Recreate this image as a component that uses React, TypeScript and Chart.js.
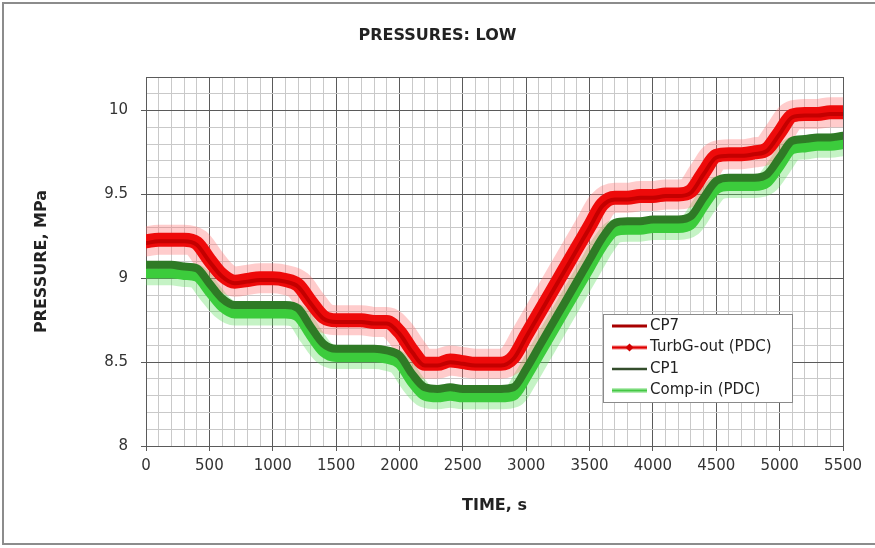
import React, { useEffect, useRef } from 'react';
import { Chart, registerables } from 'chart.js';

Chart.register(...registerables);

// ---- data ----
const TIME = [
  0, 100, 200, 300, 400, 500, 600, 700, 800, 900,
  1000, 1100, 1200, 1300, 1400, 1500, 1600, 1700, 1800, 1900,
  2000, 2100, 2200, 2300, 2400, 2500, 2600, 2700, 2800, 2900,
  3000, 3100, 3200, 3300, 3400, 3500, 3600, 3700, 3800, 3900,
  4000, 4100, 4200, 4300, 4400, 4500, 4600, 4700, 4800, 4900,
  5000, 5100, 5200, 5300, 5400, 5500,
];

const CP7 = [
  9.21, 9.22, 9.22, 9.22, 9.20, 9.10, 9.01, 8.97, 8.98, 8.99,
  8.99, 8.98, 8.95, 8.85, 8.76, 8.74, 8.74, 8.74, 8.73, 8.73,
  8.67, 8.56, 8.48, 8.48, 8.50, 8.49, 8.48, 8.48, 8.48, 8.52,
  8.65, 8.78, 8.91, 9.04, 9.17, 9.30, 9.43, 9.47, 9.47, 9.48,
  9.48, 9.49, 9.49, 9.51, 9.62, 9.72, 9.73, 9.73, 9.74, 9.76,
  9.86, 9.96, 9.97, 9.97, 9.98, 9.98,
];

const TURBG_OUT = [
  9.22, 9.23, 9.23, 9.23, 9.21, 9.11, 9.02, 8.98, 8.99, 9.00,
  9.00, 8.99, 8.96, 8.86, 8.77, 8.75, 8.75, 8.75, 8.74, 8.74,
  8.68, 8.57, 8.49, 8.49, 8.51, 8.50, 8.49, 8.49, 8.49, 8.53,
  8.66, 8.79, 8.92, 9.05, 9.18, 9.31, 9.44, 9.48, 9.48, 9.49,
  9.49, 9.50, 9.50, 9.52, 9.63, 9.73, 9.74, 9.74, 9.75, 9.77,
  9.87, 9.97, 9.98, 9.98, 9.99, 9.99,
];

const CP1 = [
  9.08, 9.08, 9.08, 9.07, 9.06, 8.97, 8.88, 8.84, 8.84, 8.84,
  8.84, 8.84, 8.82, 8.71, 8.61, 8.58, 8.58, 8.58, 8.58, 8.57,
  8.54, 8.43, 8.35, 8.34, 8.35, 8.34, 8.34, 8.34, 8.34, 8.35,
  8.46, 8.59, 8.72, 8.85, 8.98, 9.11, 9.24, 9.33, 9.34, 9.34,
  9.35, 9.35, 9.35, 9.37, 9.48, 9.58, 9.60, 9.60, 9.60, 9.62,
  9.72, 9.82, 9.83, 9.84, 9.84, 9.85,
];

const COMP_IN = [
  9.03, 9.03, 9.03, 9.02, 9.01, 8.92, 8.83, 8.79, 8.79, 8.79,
  8.79, 8.79, 8.77, 8.66, 8.56, 8.53, 8.53, 8.53, 8.53, 8.52,
  8.49, 8.38, 8.30, 8.29, 8.30, 8.29, 8.29, 8.29, 8.29, 8.30,
  8.41, 8.54, 8.67, 8.80, 8.93, 9.06, 9.19, 9.28, 9.29, 9.29,
  9.30, 9.30, 9.30, 9.32, 9.43, 9.53, 9.55, 9.55, 9.55, 9.57,
  9.67, 9.77, 9.78, 9.79, 9.79, 9.80,
];

const SERIES_NAMES = ['CP7', 'TurbG-out (PDC)', 'CP1', 'Comp-in (PDC)'];
const X_TICK_LABELS = ['0', '500', '1000', '1500', '2000', '2500', '3000', '3500', '4000', '4500', '5000', '5500'];
const Y_TICK_LABELS = ['8', '8.5', '9', '9.5', '10'];

const TITLE = 'PRESSURES: LOW';
const X_TITLE = 'TIME, s';
const Y_TITLE = 'PRESSURE, MPa';

// ---- styling ----
const FONT = "'DejaVu Sans', 'Verdana', sans-serif";
const MAJOR_GRID = '#5a5a5a';
const MINOR_GRID = '#c9c9c9';

const toPoints = (vals: number[]) => TIME.map((t, i) => ({ x: t, y: vals[i] }));

const frame = {
  id: 'frame',
  beforeDraw(chart: any) {
    const { ctx, width, height } = chart;
    ctx.save();
    ctx.fillStyle = '#ffffff';
    ctx.fillRect(0, 0, width, height);
    ctx.strokeStyle = '#8c8c8c';
    ctx.lineWidth = 2;
    ctx.strokeRect(3, 3, width + 10, height - 7);
    ctx.restore();
  },
};

const legendBox = {
  id: 'legendBox',
  afterDatasetsDraw(chart: any) {
    const { ctx, chartArea } = chart;
    const left = chartArea.left + 457;
    const top = chartArea.top + 237;
    const w = 189;
    const h = 88;
    ctx.save();
    ctx.fillStyle = '#ffffff';
    ctx.fillRect(left, top, w, h);
    ctx.strokeStyle = '#8a8a8a';
    ctx.lineWidth = 1;
    ctx.strokeRect(left + 0.5, top + 0.5, w, h);
    ctx.font = `15px ${FONT}`;
    ctx.textBaseline = 'middle';
    ctx.textAlign = 'left';
    const x0 = left + 9;
    const x1 = left + 44;
    SERIES_NAMES.forEach((name, i) => {
      const yy = top + 12 + i * 21.5;
      const line = (color: string, lw: number) => {
        ctx.strokeStyle = color;
        ctx.lineWidth = lw;
        ctx.beginPath();
        ctx.moveTo(x0, yy);
        ctx.lineTo(x1, yy);
        ctx.stroke();
      };
      if (i === 0) line('#a80000', 3);
      if (i === 1) {
        line('#f08080', 4);
        line('#e00000', 2);
        const cx = (x0 + x1) / 2;
        ctx.fillStyle = '#d00000';
        ctx.beginPath();
        ctx.moveTo(cx, yy - 4);
        ctx.lineTo(cx + 4, yy);
        ctx.lineTo(cx, yy + 4);
        ctx.lineTo(cx - 4, yy);
        ctx.closePath();
        ctx.fill();
      }
      if (i === 2) line('#344d2c', 2.5);
      if (i === 3) {
        line('#b4ecb4', 5);
        line('#44c844', 2);
      }
      ctx.fillStyle = '#222222';
      ctx.fillText(name, left + 47, yy);
    });
    ctx.restore();
  },
};

const isMajorX = (v: number) => Math.abs(v / 500 - Math.round(v / 500)) < 1e-6;
const isMajorY = (v: number) => Math.abs(v * 2 - Math.round(v * 2)) < 1e-6 || v > 10.15;

export default function App() {
  const canvasRef = useRef<HTMLCanvasElement | null>(null);

  useEffect(() => {
    const canvas = canvasRef.current;
    if (!canvas) return;
    const common = {
      pointRadius: 0,
      pointHoverRadius: 0,
      borderJoinStyle: 'round' as const,
      borderCapStyle: 'round' as const,
      cubicInterpolationMode: 'monotone' as const,
      fill: false,
    };
    const chart = new Chart(canvas, {
      type: 'line',
      data: {
        datasets: [
          { ...common, label: SERIES_NAMES[0], data: toPoints(CP7), borderColor: '#c40000', borderWidth: 4, order: 1 },
          { ...common, label: SERIES_NAMES[1], data: toPoints(TURBG_OUT), borderColor: '#ee0a0a', borderWidth: 14, order: 2 },
          { ...common, label: SERIES_NAMES[2], data: toPoints(CP1), borderColor: '#2f7a26', borderWidth: 8, order: 3 },
          { ...common, label: SERIES_NAMES[3], data: toPoints(COMP_IN), borderColor: '#3ccc3c', borderWidth: 10, order: 4 },
          { ...common, label: 'halo-red', data: toPoints(TURBG_OUT), borderColor: 'rgba(255,110,110,0.35)', borderWidth: 30, order: 5 },
          { ...common, label: 'halo-green', data: toPoints(COMP_IN), borderColor: 'rgba(90,220,90,0.35)', borderWidth: 24, order: 6 },
        ],
      },
      options: {
        animation: false,
        responsive: false,
        maintainAspectRatio: false,
        devicePixelRatio: 1,
        events: [],
        layout: { padding: { left: 32, right: 32, top: 0, bottom: 0 } },
        plugins: {
          legend: { display: false },
          tooltip: { enabled: false },
          title: {
            display: true,
            text: TITLE,
            color: '#222222',
            font: { family: FONT, size: 16, weight: 'bold' },
            padding: { top: 26.4, bottom: 31.4 },
          },
        },
        scales: {
          x: {
            type: 'linear',
            min: 0,
            max: 5500,
            afterFit: (s: any) => { s.height = 102; },
            ticks: {
              stepSize: 100,
              autoSkip: false,
              maxRotation: 0,
              minRotation: 0,
              padding: 6,
              color: '#333333',
              font: { family: FONT, size: 15 },
              callback: (v: any) => {
                const n = Number(v);
                const s = String(Math.round(n));
                return isMajorX(n) && X_TICK_LABELS.includes(s) ? s : '';
              },
            },
            grid: {
              color: (c: any) => (isMajorX(c.tick.value) ? MAJOR_GRID : MINOR_GRID),
              tickColor: (c: any) => (isMajorX(c.tick.value) ? MAJOR_GRID : 'rgba(0,0,0,0)'),
              tickLength: 5,
              lineWidth: 1,
            },
            border: { display: true, color: MAJOR_GRID, width: 1 },
            title: {
              display: true,
              text: X_TITLE,
              color: '#222222',
              font: { family: FONT, size: 16, weight: 'bold' },
              padding: { top: 0, bottom: 32.4 },
            },
          },
          y: {
            type: 'linear',
            min: 8,
            max: 10.2,
            afterFit: (s: any) => { s.width = 114; },
            ticks: {
              stepSize: 0.1,
              autoSkip: false,
              padding: 13,
              color: '#333333',
              font: { family: FONT, size: 15 },
              callback: (v: any) => {
                const r = Math.round(Number(v) * 10) / 10;
                const s = String(r);
                return isMajorY(r) && Y_TICK_LABELS.includes(s) ? s : '';
              },
            },
            grid: {
              color: (c: any) => (isMajorY(c.tick.value) ? MAJOR_GRID : MINOR_GRID),
              tickColor: (c: any) => (isMajorY(c.tick.value) && c.tick.value < 10.15 ? MAJOR_GRID : 'rgba(0,0,0,0)'),
              tickLength: 5,
              lineWidth: 1,
            },
            border: { display: true, color: MAJOR_GRID, width: 1 },
            title: {
              display: true,
              text: Y_TITLE,
              color: '#222222',
              font: { family: FONT, size: 16, weight: 'bold' },
              padding: { top: 0.4, bottom: 0 },
            },
          },
        },
      },
      plugins: [frame, legendBox],
    } as any);
    return () => chart.destroy();
  }, []);

  return (
    <div style={{ position: 'fixed', left: 0, top: 0, width: 875, height: 548, background: '#fff' }}>
      <canvas ref={canvasRef} width={875} height={548} style={{ display: 'block', width: 875, height: 548 }} />
    </div>
  );
}
